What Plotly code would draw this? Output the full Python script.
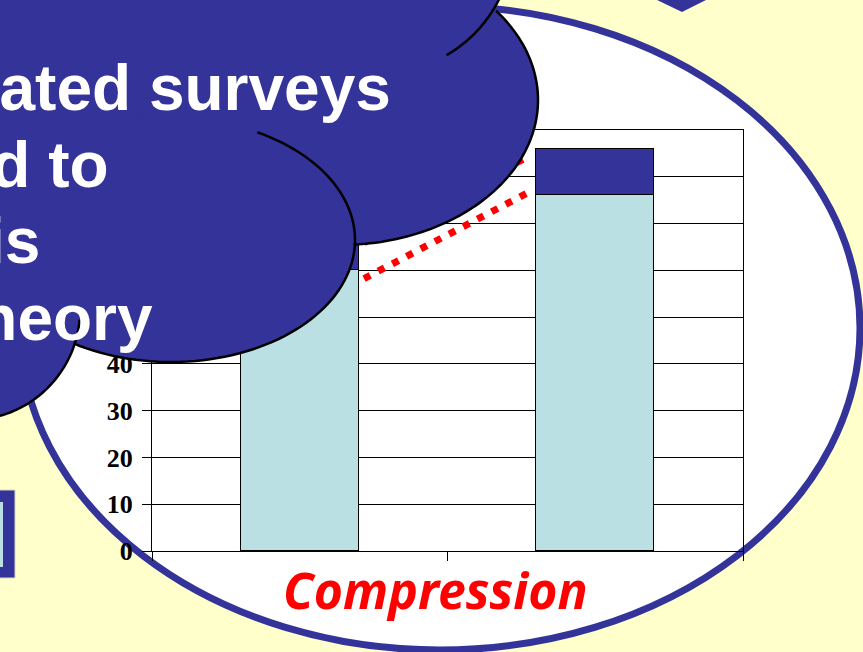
import numpy as np
import plotly.graph_objects as go

# ---- chart values ----
bar_pos = [0, 1]                  # two survey columns
base_values = [60, 76]            # light segment
top_values = [8, 10]              # dark segment stacked on top
y_ticks = [0, 10, 20, 30, 40, 50, 60, 70, 80, 90]

# red dotted guide lines linking the columns (drawn right-to-left)
guide_x_lower = [0.766, 0.217]
guide_y_lower = [76.4, 58.2]
guide_x_upper = [0.755, 0.217]
guide_y_upper = [83.7, 65.9]

cloud_lines = ["Repeated surveys", "used to", "test this", "theory"]
axis_caption = "Compression"

# ---- page geometry (pixels) ----
W, H = 863, 652
PLOT_L, PLOT_R, PLOT_T, PLOT_B = 152, 743, 130, 551

NAVY = "#333399"
LIGHT = "#BBE0E3"
PAGE = "#FFFFCC"


def px(x):
    return x / W


def py(y):
    return 1 - y / H


def arc_path(cx, cy, rx, ry, t0, t1, n=80):
    t = np.radians(np.linspace(t0, t1, n))
    xs = cx + rx * np.cos(t)
    ys = cy + ry * np.sin(t)
    return "M " + " L ".join(f"{px(x):.5f},{py(y):.5f}" for x, y in zip(xs, ys))


def oval(cx, cy, rx, ry, **kw):
    return dict(type="circle", xref="paper", yref="paper",
                x0=px(cx - rx), x1=px(cx + rx), y0=py(cy + ry), y1=py(cy - ry), **kw)


fig = go.Figure()

fig.add_trace(go.Bar(x=bar_pos, y=base_values, width=0.4,
                     marker=dict(color=LIGHT, line=dict(color="black", width=1)),
                     showlegend=False, hoverinfo="skip"))
fig.add_trace(go.Bar(x=bar_pos, y=top_values, width=0.4,
                     marker=dict(color=NAVY, line=dict(color="black", width=1)),
                     showlegend=False, hoverinfo="skip"))

for gx, gy in ((guide_x_lower, guide_y_lower), (guide_x_upper, guide_y_upper)):
    fig.add_trace(go.Scatter(x=gx, y=gy, mode="lines",
                             line=dict(color="#FF0000", width=7, dash="7px,9px"),
                             showlegend=False, hoverinfo="skip"))

shapes = []
# large white oval framing the chart
shapes.append(oval(440, 328, 420, 322, layer="below", fillcolor="white",
                   line=dict(color=NAVY, width=7)))
# downward arrow tip at the top edge
shapes.append(dict(type="path", xref="paper", yref="paper", layer="below",
                   path=f"M {px(655)},{py(-1)} L {px(708)},{py(-1)} L {px(682)},{py(12)} Z",
                   fillcolor=NAVY, line=dict(width=0)))
# small framed box on the left edge
shapes.append(dict(type="rect", xref="paper", yref="paper", layer="below",
                   x0=px(-6), x1=px(15), y0=py(578), y1=py(490),
                   fillcolor=NAVY, line=dict(color="#D8D8C0", width=1)))
shapes.append(dict(type="rect", xref="paper", yref="paper", layer="below",
                   x0=px(-6), x1=px(3), y0=py(567), y1=py(502),
                   fillcolor=LIGHT, line=dict(width=0)))

# cloud callout: filled bubbles first, then the outline arcs
fill_kw = dict(layer="above", fillcolor=NAVY, line=dict(width=0))
shapes.append(dict(type="rect", xref="paper", yref="paper",
                   x0=px(-10), x1=px(300), y0=py(200), y1=py(-10), **fill_kw))
shapes.append(oval(340, 100, 198, 145, **fill_kw))
shapes.append(oval(380, -60, 133, 133, **fill_kw))
shapes.append(oval(171, 240, 184, 122, **fill_kw))
shapes.append(oval(-30, 310, 110, 110, **fill_kw))

edge = dict(type="path", xref="paper", yref="paper", layer="above",
            fillcolor="rgba(0,0,0,0)", line=dict(color="black", width=2.5))
shapes.append(dict(path=arc_path(380, -60, 133, 133, 60, 5), **edge))
shapes.append(dict(path=arc_path(340, 100, 198, 145, -38, 86), **edge))
shapes.append(dict(path=arc_path(171, 240, 184, 122, -62, 122), **edge))
shapes.append(dict(path=arc_path(-30, 310, 110, 110, 5, 115), **edge))

annotations = []
right_edges = [393, 111, 42, 155]
baselines = [110, 187, 263, 340]
size = 64
for text, xr, yb in zip(cloud_lines, right_edges, baselines):
    annotations.append(dict(text=text, xref="paper", yref="paper",
                            x=px(xr), y=py(yb - 0.346 * size),
                            xanchor="right", yanchor="middle", showarrow=False,
                            font=dict(family="Liberation Sans", size=size,
                                      color="white", weight="bold")))

annotations.append(dict(text=f"<i>{axis_caption}</i>", xref="paper", yref="paper",
                        x=px(435), y=py(590), xanchor="center", yanchor="middle",
                        showarrow=False,
                        font=dict(family="Noto Sans", size=50, color="#FF0000",
                                  weight="bold")))

fig.update_layout(
    width=W, height=H,
    margin=dict(l=0, r=0, t=0, b=0, pad=0, autoexpand=False),
    paper_bgcolor=PAGE,
    plot_bgcolor="rgba(0,0,0,0)",
    barmode="stack",
    bargap=0,
    shapes=shapes,
    annotations=annotations,
    xaxis=dict(domain=[px(PLOT_L), px(PLOT_R)], range=[-0.5, 1.5],
               tickvals=[-0.5, 0.5, 1.5], ticks="outside", ticklen=9,
               tickcolor="black", showticklabels=False, showgrid=False,
               zeroline=False, showline=True, linecolor="black", linewidth=1,
               mirror=True, fixedrange=True, automargin=False),
    yaxis=dict(domain=[py(PLOT_B), py(PLOT_T)], range=[0, 90],
               tickvals=y_ticks, ticks="outside", ticklen=9, tickcolor="black",
               ticklabelstandoff=4,
               tickfont=dict(family="Liberation Serif", size=26, color="black",
                             weight="bold"),
               showgrid=True, gridcolor="black", gridwidth=1,
               zeroline=False, showline=True, linecolor="black", linewidth=1,
               mirror=True, fixedrange=True, automargin=False),
    showlegend=False,
)

fig.write_html("out.html")
